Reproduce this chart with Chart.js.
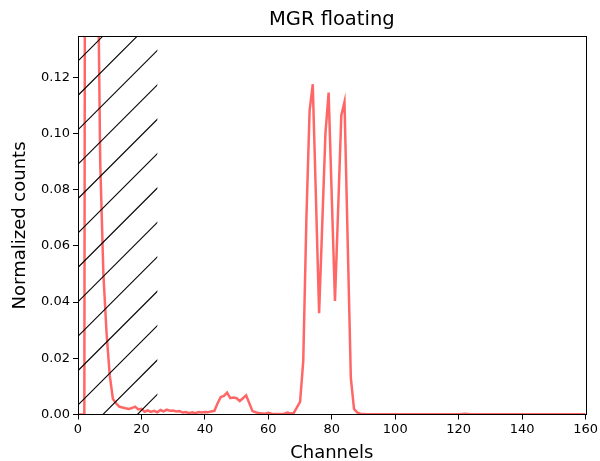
<!DOCTYPE html>
<html>
<head>
<meta charset="utf-8">
<script src="https://cdn.jsdelivr.net/npm/chart.js@4/dist/chart.umd.min.js"></script>
<style>
  html, body { margin: 0; padding: 0; background: #fff; }
</style>
</head>
<body>
<canvas id="myChart" width="600" height="461"></canvas>
<script>
// normalized counts per channel (0..160)
let counts = [
    0, 0, 0, 0.9, 0.8, 0.5, 0.19, 0.090, 0.050, 0.029,
    0.014, 0.0055, 0.004, 0.0028, 0.0025, 0.0022, 0.0020, 0.0023, 0.0028, 0.0018,
    0.0020, 0.0010, 0.0015, 0.0009, 0.0013, 0.0008, 0.0016, 0.0011, 0.0017, 0.0013,
    0.0014, 0.0011, 0.0012, 0.0007, 0.0009, 0.0005, 0.0008, 0.0005, 0.0009, 0.0007,
    0.0009, 0.0008, 0.0011, 0.0013, 0.0040, 0.0062, 0.0066, 0.0078, 0.0058, 0.0060,
    0.0058, 0.0048, 0.0058, 0.0068, 0.0040, 0.0012, 0.0008, 0.0005, 0.0004, 0.0003,
    0.0006, 0.0003, 0.0002, 0.0002, 0.0002, 0.0003, 0.0007, 0.0004, 0.0005, 0.0025,
    0.0045, 0.019, 0.070, 0.108, 0.1175, 0.077, 0.036, 0.068, 0.100, 0.1145,
    0.077, 0.0404, 0.073, 0.1064, 0.1112, 0.062, 0.013, 0.002, 0.0007, 0.0003,
    0.0002, 0.0001, 0.0001, 0.0001, 0.0001, 0.0001, 0.0001, 0.0001, 0.0001, 0.0001,
    0.0001, 0.0001, 0.0001, 0.0001, 0.0001, 0.0001, 0.0001, 0.0001, 0.0001, 0.0001,
    0.0001, 0.0001, 0.0001, 0.0001, 0.0001, 0.0001, 0.0001, 0.0001, 0.0001, 0.0001,
    0.0001, 0.0002, 0.0003, 0.0002, 0.0001, 0.0001, 0.0001, 0.0001, 0.0001, 0.0001,
    0.0001, 0.0001, 0.0001, 0.0001, 0.0001, 0.0001, 0.0001, 0.0001, 0.0001, 0.0001,
    0.0001, 0.0001, 0.0001, 0.0001, 0.0001, 0.0001, 0.0001, 0.0001, 0.0001, 0.0001,
    0.0001, 0.0001, 0.0001, 0.0001, 0.0001, 0.0001, 0.0001, 0.0001, 0.0001, 0.0001,
    0.0001
];
let channels = counts.map((c, i) => i);

let x_min = 0, x_max = 160, x_step = 20;
let y_min = 0, y_max = 0.1345, y_step = 0.02;
let hatch_from = 0, hatch_to = 25;   // excluded region

let points = [];
channels.forEach((ch, i) => {
    points.push({x: ch, y: counts[i]});
});

const fontName = "'DejaVu Sans', sans-serif";

// hatched span + full box around the axes
const hatchPlugin = {
    id: 'hatch',
    afterDatasetsDraw(chart) {
        const {ctx, chartArea: a, scales} = chart;
        const x0 = scales.x.getPixelForValue(hatch_from);
        const x1 = scales.x.getPixelForValue(hatch_to);
        const gap = 34.4;
        ctx.save();
        ctx.beginPath();
        ctx.rect(x0, a.top, x1 - x0, a.bottom - a.top);
        ctx.clip();
        ctx.strokeStyle = '#000';
        ctx.lineWidth = 1.1;
        let c = a.left + a.bottom - 9.5;
        while (c > x0 + a.top) c -= gap;
        for (; c < x1 + a.bottom + gap; c += gap) {
            ctx.beginPath();
            ctx.moveTo(x0 - 5, c - x0 + 5);
            ctx.lineTo(x1 + 5, c - x1 - 5);
            ctx.stroke();
        }
        ctx.restore();

        ctx.save();
        ctx.strokeStyle = '#000';
        ctx.lineWidth = 1;
        ctx.strokeRect(Math.round(a.left) + 0.5, Math.round(a.top) + 0.5,
            Math.round(a.right - a.left), Math.round(a.bottom - a.top));
        ctx.restore();
    }
};

function drawGraph(points){
    const ctx = document.querySelector('#myChart').getContext('2d');
    const myChart = new Chart(ctx, {
        type: 'line',
        data: {
            datasets: [{
                data: points,
                borderColor: 'rgba(255, 0, 0, 0.6)',
                borderWidth: 2.5,
                pointRadius: 0,
                tension: 0,
                fill: false
            }]
        },
        options: {
            responsive: false,
            animation: false,
            devicePixelRatio: 1,
            layout: { padding: { left: 0, right: 13, top: 0, bottom: 0 } },
            plugins: {
                legend: { display: false },
                tooltip: { enabled: false },
                title: {
                    display: true,
                    fullSize: false,
                    text: 'MGR floating',
                    color: '#000',
                    font: { family: fontName, size: 19.5, weight: 'normal' },
                    padding: { top: 8, bottom: 5 }
                }
            },
            scales: {
                x: {
                    type: 'linear',
                    min: x_min,
                    max: x_max,
                    afterFit: s => { s.height = 46.5; },
                    ticks: {
                        stepSize: x_step,
                        color: '#000',
                        padding: 2,
                        maxRotation: 0,
                        font: { family: fontName, size: 13 }
                    },
                    grid: { display: true, drawOnChartArea: false, tickLength: 5, color: '#000' },
                    border: { display: true, color: '#000' },
                    title: {
                        display: true,
                        text: 'Channels',
                        color: '#000',
                        font: { family: fontName, size: 18 },
                        padding: { top: 0, bottom: -3 }
                    }
                },
                y: {
                    min: y_min,
                    max: y_max,
                    afterFit: s => { s.width = 78; },
                    ticks: {
                        stepSize: y_step,
                        includeBounds: false,
                        color: '#000',
                        padding: 3,
                        font: { family: fontName, size: 13 },
                        callback: v => v.toFixed(2)
                    },
                    grid: { display: true, drawOnChartArea: false, tickLength: 5, color: '#000' },
                    border: { display: true, color: '#000' },
                    title: {
                        display: true,
                        text: 'Normalized counts',
                        color: '#000',
                        font: { family: fontName, size: 18 },
                        padding: { top: 10, bottom: 0 }
                    }
                }
            }
        },
        plugins: [hatchPlugin]
    });
}

drawGraph(points);
</script>
</body>
</html>
